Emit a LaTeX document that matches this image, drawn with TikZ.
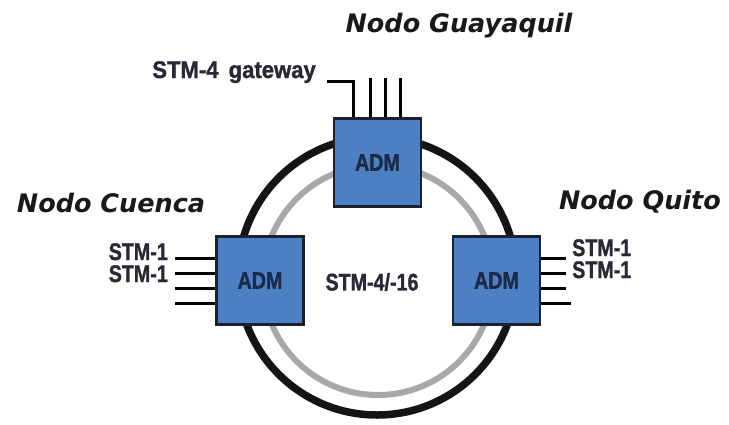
\documentclass[tikz,border=0pt]{standalone}
\usepackage{fontspec}
\newfontfamily\titlefont{DejaVu Sans}
\newfontfamily\condfont{Liberation Sans}[FakeStretch=0.82, FakeBold=1.2]
\newfontfamily\gwfont{Liberation Sans}[FakeStretch=0.92, FakeBold=1.2]
\definecolor{boxblue}{RGB}{76,128,194}
\definecolor{boxline}{RGB}{26,34,50}
\definecolor{admtext}{RGB}{27,42,70}
\definecolor{labtext}{RGB}{40,40,55}
\definecolor{ringgray}{RGB}{168,168,170}
\tikzset{
  adm/.style={draw=boxline, fill=boxblue, line width=2.5pt, minimum width=87pt, minimum height=88pt, inner sep=0pt,
    font=\condfont\bfseries\fontsize{24}{24}\selectfont, text=admtext},
  lead/.style={draw=black, line width=3pt},
  stm/.style={font=\condfont\bfseries\fontsize{24}{24}\selectfont, text=labtext, inner sep=0pt},
  gwstyle/.style={font=\gwfont\bfseries\fontsize{24}{24}\selectfont, text=labtext, inner sep=0pt},
  title/.style={font=\titlefont\bfseries\itshape\fontsize{25.5}{25.5}\selectfont, text=black!90, inner sep=0pt}
}
\begin{document}
\begin{tikzpicture}[x=1pt, y=-1pt]
\useasboundingbox (0,0) rectangle (729,424);
\fill[white] (0,0) rectangle (729,424);
\coordinate (ringc) at (377,276);
\coordinate (grayc) at (378,280);
% rings
\draw[ringgray, line width=6pt] (grayc) circle[radius=115];
\draw[black!92, line width=7.5pt] (ringc) circle[radius=139];
% boxes
\node[adm] (top) at (377.5,162.5) {ADM};
\node[adm] (left) at (260,280.5) {ADM};
\node[adm] (right) at (496.5,280.5) {ADM};
% top leads
\coordinate (gw) at (327,81);
\draw[lead] ([xshift=-24.5pt]top.north) |- (gw);
\draw[lead] ([xshift=-7.5pt]top.north) -- ++(0,-39);
\draw[lead] ([xshift=7.5pt]top.north) -- ++(0,-39);
\draw[lead] ([xshift=22.5pt]top.north) -- ++(0,-39);
% left leads
\draw[lead] ([yshift=22.5pt]left.west) -- ++(-40,0);
\draw[lead] ([yshift=7.5pt]left.west) -- ++(-40,0);
\draw[lead] ([yshift=-7.5pt]left.west) -- ++(-40,0);
\draw[lead] ([yshift=-22.5pt]left.west) -- ++(-40,0);
% right leads
\draw[lead] ([yshift=22.5pt]right.east) -- ++(25,0);
\draw[lead] ([yshift=7.5pt]right.east) -- ++(25,0);
\draw[lead] ([yshift=-7.5pt]right.east) -- ++(25,0);
\draw[lead] ([yshift=-22.5pt]right.east) -- ++(30,0);
% labels
\node[gwstyle, anchor=base east] (gwlab) at (316,78) {STM-4\hspace{4pt} gateway};
\node[stm, anchor=base east] (l1) at (168,260) {STM-1};
\node[stm, anchor=base east] (l2) at (168,282) {STM-1};
\node[stm, anchor=base west] (r1) at (572,256) {STM-1};
\node[stm, anchor=base west] (r2) at (572,278) {STM-1};
\node[stm] (ring) at (372,282) {STM-4/-16};
\node[title] (tg) at (459,26) {Nodo Guayaquil};
\node[title] (tc) at (111,203) {Nodo Cuenca};
\node[title] (tq) at (640,202) {Nodo Quito};
\end{tikzpicture}
\end{document}
